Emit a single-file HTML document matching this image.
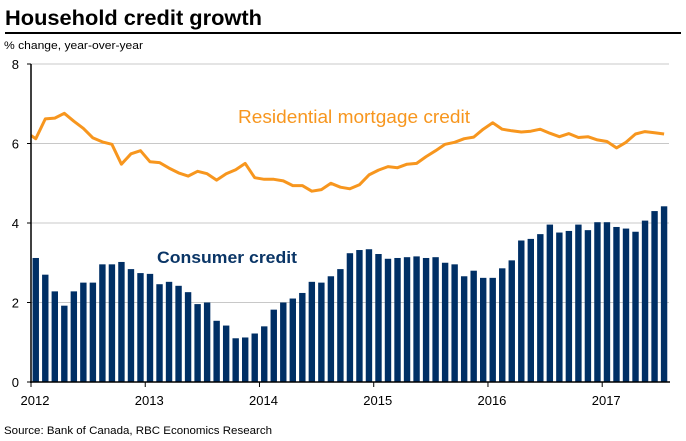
<!DOCTYPE html>
<html><head><meta charset="utf-8"><style>
body{margin:0;background:#fff;width:686px;height:436px;overflow:hidden;font-family:"Liberation Sans",sans-serif}
</style></head><body>
<svg id="s" width="686" height="436" xmlns="http://www.w3.org/2000/svg" font-family="Liberation Sans, sans-serif">
<text x="5" y="25" font-size="21" font-weight="bold" fill="#000" textLength="257" lengthAdjust="spacingAndGlyphs">Household credit growth</text>
<rect x="5" y="32" width="676" height="2" fill="#000"/>
<text x="4" y="49" font-size="11" fill="#000" textLength="139" lengthAdjust="spacingAndGlyphs">% change, year-over-year</text>
<g id="g"></g>
<text x="238" y="123" font-size="18" fill="#F7961E" textLength="232" lengthAdjust="spacingAndGlyphs">Residential mortgage credit</text>
<text x="157" y="263" font-size="17" font-weight="bold" fill="#0A3566" textLength="140" lengthAdjust="spacingAndGlyphs">Consumer credit</text>
<text x="4" y="434" font-size="11" fill="#000" textLength="268" lengthAdjust="spacingAndGlyphs">Source: Bank of Canada, RBC Economics Research</text>
</svg>
<script>
var g=document.getElementById('g'),h='';
function Y(v){return 382-v*39.75;}
for(var k=1;k<=4;k++){var y=Y(k*2);h+='<line x1="31" x2="669" y1="'+y+'" y2="'+y+'" stroke="#c8c8c8" stroke-width="1"/>';}
for(var k=0;k<=4;k++){h+='<text x="19" y="'+(Y(k*2)+5)+'" font-size="13" text-anchor="end">'+(k*2)+'</text>';h+='<line x1="27" x2="31" y1="'+Y(k*2)+'" y2="'+Y(k*2)+'" stroke="#000"/>';}
var b=[3.12,2.7,2.28,1.92,2.28,2.5,2.5,2.96,2.96,3.02,2.84,2.74,2.72,2.46,2.52,2.42,2.26,1.96,2.0,1.54,1.42,1.1,1.12,1.22,1.4,1.82,2.0,2.1,2.24,2.52,2.5,2.66,2.84,3.24,3.32,3.34,3.22,3.1,3.12,3.14,3.16,3.12,3.14,3.0,2.96,2.66,2.8,2.62,2.62,2.86,3.06,3.56,3.6,3.72,3.96,3.76,3.8,3.96,3.82,4.02,4.02,3.9,3.86,3.78,4.06,4.3,4.42];
var m=[6.12,6.62,6.64,6.76,6.56,6.38,6.14,6.04,5.98,5.48,5.74,5.82,5.54,5.52,5.38,5.26,5.18,5.3,5.24,5.08,5.24,5.34,5.5,5.14,5.1,5.1,5.06,4.94,4.94,4.8,4.84,5.0,4.9,4.86,4.96,5.21,5.33,5.42,5.39,5.48,5.5,5.67,5.82,5.98,6.03,6.12,6.16,6.36,6.52,6.36,6.32,6.29,6.31,6.36,6.26,6.17,6.25,6.15,6.17,6.09,6.05,5.89,6.03,6.24,6.3,6.27,6.24];
function X(i){return 31+(i+0.5)*9.52;}
for(var i=0;i<b.length;i++){h+='<rect x="'+(X(i)-3.2)+'" y="'+Y(b[i])+'" width="6.4" height="'+(b[i]*39.75)+'" fill="#002F65"/>';}
var p='31,'+Y(6.2);
for(var i=0;i<m.length;i++)p+=' '+X(i).toFixed(1)+','+Y(m[i]).toFixed(1);
h+='<polyline points="'+p+'" fill="none" stroke="#F7961E" stroke-width="3" stroke-linejoin="round"/>';
h+='<line x1="31" x2="31" y1="64" y2="383" stroke="#000" stroke-width="1.5"/>';
h+='<line x1="30" x2="670" y1="382" y2="382" stroke="#000" stroke-width="1.5"/>';
var yr=['2012','2013','2014','2015','2016','2017'];
for(var k=0;k<6;k++){var x=31+k*12*9.52;h+='<line x1="'+x+'" x2="'+x+'" y1="382" y2="387" stroke="#000"/>';h+='<text x="'+(x+4)+'" y="405" font-size="13" text-anchor="middle">'+yr[k]+'</text>';}
g.innerHTML=h;
</script>
</body></html>
